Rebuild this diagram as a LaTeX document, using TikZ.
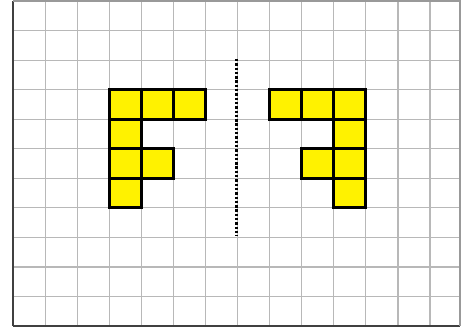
\documentclass[tikz,border=0pt]{standalone}
\begin{document}
\begin{tikzpicture}[x=1pt,y=-1pt,
  gridline/.style={draw=black!28,line width=1.1pt},
  frameline/.style={draw=black!75,line width=1.6pt},
  cellbox/.style={fill=yellow,draw=black,line width=2.8pt},
  mirrorline/.style={draw=black,line width=3pt,dash pattern=on 2.4pt off 1.9pt}]
\useasboundingbox (0,0) rectangle (461,329);
\def\cw{32.08}
\def\ch{29.55}
\def\xo{13}
\def\yo{1}
% grid
\foreach \k in {1,...,13} \draw[gridline] ({\xo+\k*\cw},\yo) -- ({\xo+\k*\cw},326);
\foreach \k in {1,...,10} \draw[gridline] (\xo,{\yo+\k*\ch}) -- (460,{\yo+\k*\ch});
% frame
\draw[frameline] (\xo,326) -- (\xo,\yo);
\draw[frameline] (\xo,326) -- (460,326);
\draw[draw=black!40,line width=1.2pt] (\xo,\yo) -- (460,\yo) -- (460,326);
% mirror line
\coordinate (mtop) at (236,59);
\coordinate (mbot) at (236,236);
\draw[mirrorline] (mtop) -- (mbot);
% cells
\foreach \c/\r in {3/3,4/3,5/3,3/4,3/5,4/5,3/6,
                   8/3,9/3,10/3,10/4,9/5,10/5,10/6}
  \draw[cellbox] ({\xo+\c*\cw},{\yo+\r*\ch}) rectangle ({\xo+(\c+1)*\cw},{\yo+(\r+1)*\ch});
\end{tikzpicture}
\end{document}
